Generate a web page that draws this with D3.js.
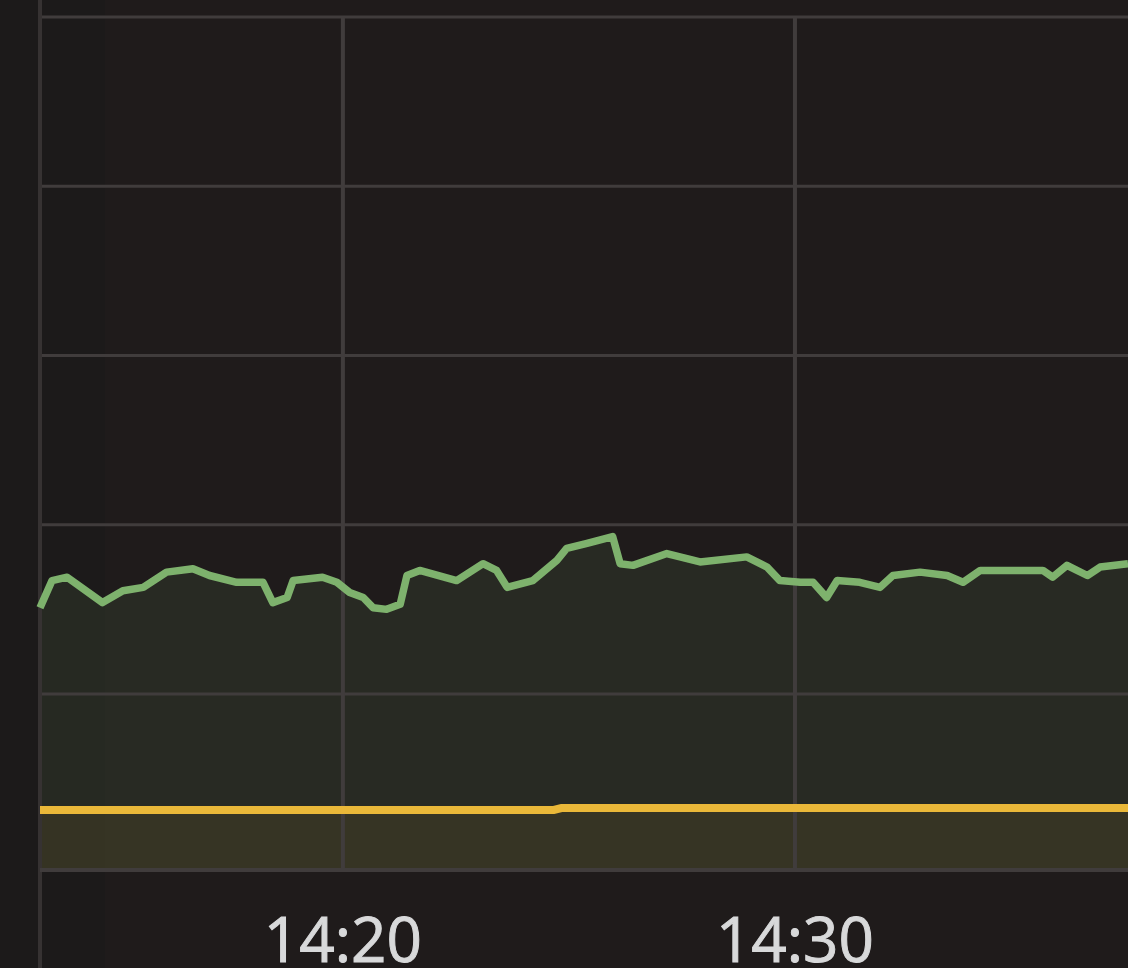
<!DOCTYPE html>
<html lang="en">
<head>
<meta charset="UTF-8" />
<script src="https://d3js.org/d3.v7.min.js"></script>
<title>Grafana panel zoom</title>
<style>
  body { margin: 0; background: #1f1b1b; overflow: hidden; }
</style>
</head>
<body>
<script type="text/javascript">
	var width = 1128; var height = 968;

	// green series
	var greenTimes = ["14:13:18","14:13:34","14:13:54","14:14:41","14:15:08","14:15:35","14:16:06","14:16:41","14:17:03","14:17:39",
		"14:18:14","14:18:27","14:18:46","14:18:54","14:19:33","14:19:52","14:20:09","14:20:27","14:20:40","14:20:58",
		"14:21:16","14:21:25","14:21:42","14:22:31","14:23:06","14:23:24","14:23:38","14:24:12","14:24:44","14:24:57",
		"14:25:24","14:25:58","14:26:08","14:26:25","14:27:10","14:27:54","14:28:56","14:29:23","14:29:40","14:30:07",
		"14:30:24","14:30:42","14:30:56","14:31:26","14:31:53","14:32:10","14:32:46","14:33:22","14:33:43","14:34:06",
		"14:34:49","14:35:29","14:35:42","14:36:01","14:36:28","14:36:45","14:37:22"];
	var greenValues = [15.1,16.7,16.9,15.4,16.1,16.3,17.2,17.4,17.0,16.6,
		16.6,15.4,15.7,16.7,16.9,16.6,16.0,15.7,15.1,15.0,
		15.3,17.0,17.3,16.7,17.7,17.3,16.3,16.7,17.9,18.6,
		18.9,19.3,17.7,17.6,18.3,17.8,18.1,17.5,16.7,16.6,
		16.6,15.7,16.7,16.6,16.3,17.0,17.2,17.0,16.6,17.3,
		17.3,17.3,16.9,17.6,17.0,17.5,17.7];

	// yellow series
	var yellowTimes = ["14:13:18","14:24:40","14:24:50","14:37:22"];
	var yellowValues = [3.15,3.15,3.26,3.26];

	var yTicks = [10, 20, 30, 40, 50];
	var xTicks = ["14:20:00", "14:30:00"];

	var parse = d3.timeParse("%H:%M:%S");
	var plotLeft = 40, plotBottom = 870, plotTop = 17;

	var x = d3.scaleTime().domain([parse("14:13:18"), parse("14:37:22")]).range([plotLeft, width]);
	var y = d3.scaleLinear().domain([-0.4, 50]).range([plotBottom, plotTop]);

	var svg = d3.select("body").append("svg").attr("width", width).attr("height", height);

	svg.append("rect").attr("width", width).attr("height", height).attr("fill", "#1f1b1b");
	svg.append("rect").attr("width", 105).attr("height", height).attr("fill", "#1c1a1a");

	var green = greenTimes.map(function(t, i){ return {t: parse(t), v: greenValues[i]}; });
	var yellow = yellowTimes.map(function(t, i){ return {t: parse(t), v: yellowValues[i]}; });

	// fills
	var area = d3.area().x(function(d){return x(d.t);}).y0(plotBottom).y1(function(d){return y(d.v);});
	svg.append("path").datum(green).attr("d", area).attr("fill", "#7eb26d").attr("fill-opacity", 0.1);
	svg.append("path").datum(yellow).attr("d", area).attr("fill", "#eab839").attr("fill-opacity", 0.08);

	// grid
	svg.append("g").selectAll("line").data(yTicks).enter().append("line")
		.attr("x1", plotLeft).attr("x2", width)
		.attr("y1", function(d){return y(d);}).attr("y2", function(d){return y(d);})
		.attr("stroke", "#403c3c").attr("stroke-width", 3);
	svg.append("g").selectAll("line").data(xTicks).enter().append("line")
		.attr("x1", function(d){return x(parse(d));}).attr("x2", function(d){return x(parse(d));})
		.attr("y1", plotTop).attr("y2", plotBottom)
		.attr("stroke", "#403c3c").attr("stroke-width", 4);

	// axes lines
	svg.append("line").attr("x1", plotLeft).attr("x2", plotLeft).attr("y1", 0).attr("y2", height)
		.attr("stroke", "#363232").attr("stroke-width", 4);
	svg.append("line").attr("x1", plotLeft).attr("x2", width).attr("y1", plotBottom).attr("y2", plotBottom)
		.attr("stroke", "#403c3c").attr("stroke-width", 4);

	// series lines
	var line = d3.line().x(function(d){return x(d.t);}).y(function(d){return y(d.v);});
	svg.append("path").datum(yellow).attr("d", line).attr("fill", "none").attr("stroke", "#eab839").attr("stroke-width", 8);
	svg.append("path").datum(green).attr("d", line).attr("fill", "none").attr("stroke", "#7eb26d").attr("stroke-width", 7.5)
		.attr("stroke-linejoin", "round");

	// tick labels
	var fmt = d3.timeFormat("%H:%M");
	svg.append("g").selectAll("text").data(xTicks).enter().append("text")
		.attr("x", function(d){return x(parse(d));}).attr("y", 962)
		.attr("text-anchor", "middle")
		.attr("font-family", "Open Sans").attr("font-size", 62)
		.attr("fill", "#d8d9da").attr("stroke", "#d8d9da").attr("stroke-width", 1)
		.text(function(d){return fmt(parse(d));});
</script>
</body>
</html>
